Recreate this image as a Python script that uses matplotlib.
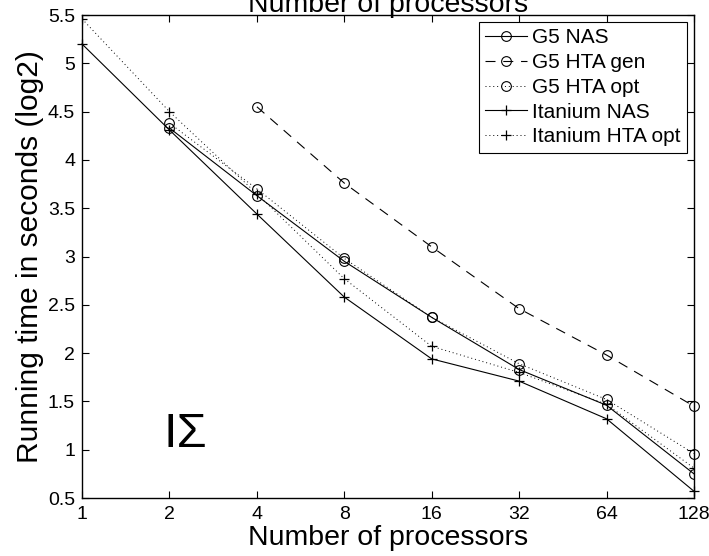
import matplotlib
matplotlib.use("Agg")
import matplotlib.pyplot as plt

plt.rcParams['font.family'] = ['Liberation Sans', 'DejaVu Sans']

procs = [1, 2, 4, 8, 16, 32, 64, 128]

g5_nas_x = [2, 4, 8, 16, 32, 64, 128]
g5_nas = [4.33, 3.63, 2.95, 2.37, 1.83, 1.46, 0.75]

g5_hta_gen_x = [4, 8, 16, 32, 64, 128]
g5_hta_gen = [4.55, 3.76, 3.10, 2.46, 1.98, 1.45]

g5_hta_opt_x = [2, 4, 8, 16, 32, 64, 128]
g5_hta_opt = [4.38, 3.70, 2.98, 2.37, 1.89, 1.52, 0.96]

it_nas_x = [1, 2, 4, 8, 16, 32, 64, 128]
it_nas = [5.20, 4.31, 3.44, 2.58, 1.94, 1.71, 1.32, 0.57]

it_hta_opt_x = [1, 2, 4, 8, 16, 32, 64, 128]
it_hta_opt = [5.46, 4.50, 3.65, 2.77, 2.07, 1.80, 1.47, 0.81]

yticks = [0.5, 1, 1.5, 2, 2.5, 3, 3.5, 4, 4.5, 5, 5.5]
ytick_labels = ['0.5', '1', '1.5', '2', '2.5', '3', '3.5', '4', '4.5', '5', '5.5']
xtick_labels = ['1', '2', '4', '8', '16', '32', '64', '128']

fig = plt.figure(figsize=(7.09, 5.56), dpi=100)
ax = fig.add_axes([0.1157, 0.1043, 0.8631, 0.8687])

lw = 0.8
ms = 7
dot = (0, (1, 3))
ax.plot(g5_nas_x, g5_nas, color='black', linestyle='-', lw=lw, marker='o',
        markersize=ms, markerfacecolor='none', markeredgewidth=0.8, label='G5 NAS')
ax.plot(g5_hta_gen_x, g5_hta_gen, color='black', linestyle=(0, (9, 7)), lw=lw, marker='o',
        markersize=ms, markerfacecolor='none', markeredgewidth=0.8, label='G5 HTA gen',
        clip_on=False)
ax.plot(g5_hta_opt_x, g5_hta_opt, color='black', linestyle=dot, lw=0.7, marker='o',
        markersize=ms, markerfacecolor='none', markeredgewidth=0.8, label='G5 HTA opt',
        clip_on=False)
ax.plot(it_nas_x, it_nas, color='black', linestyle='-', lw=lw, marker='+',
        markersize=ms, markeredgewidth=0.9, label='Itanium NAS', clip_on=False)
ax.plot(it_hta_opt_x, it_hta_opt, color='black', linestyle=dot, lw=0.7, marker='+',
        markersize=ms, markeredgewidth=0.9, label='Itanium HTA opt')

ax.set_xscale('log', base=2)
ax.set_xlim(1, 128)
ax.set_ylim(0.5, 5.5)
ax.set_xticks(procs)
ax.set_xticklabels(xtick_labels)
ax.minorticks_off()
ax.set_yticks(yticks)
ax.set_yticklabels(ytick_labels)

ax.tick_params(direction='in', top=True, right=True, length=5, width=0.8,
               labelsize=14, colors='black')
ax.tick_params(axis='x', pad=6)
ax.tick_params(axis='y', pad=5)
for s in ax.spines.values():
    s.set_linewidth(1.0)

ax.set_xlabel('Number of processors', fontsize=20.5, labelpad=1)
ax.set_ylabel('Running time in seconds (log2)', fontsize=21.5, labelpad=3)
ax.set_title('Number of processors', fontsize=20.5, pad=2)

ax.text(2.26, 1.16, 'IΣ', fontsize=35, ha='center', va='center')

leg = ax.legend(loc='upper right', fontsize=15, frameon=True, fancybox=False,
                edgecolor='black', handlelength=2.0, handletextpad=0.25,
                borderpad=0.3, labelspacing=0.28, borderaxespad=0.33,
                framealpha=1)
leg.get_frame().set_linewidth(0.8)

fig.savefig('out.png', dpi=100)
